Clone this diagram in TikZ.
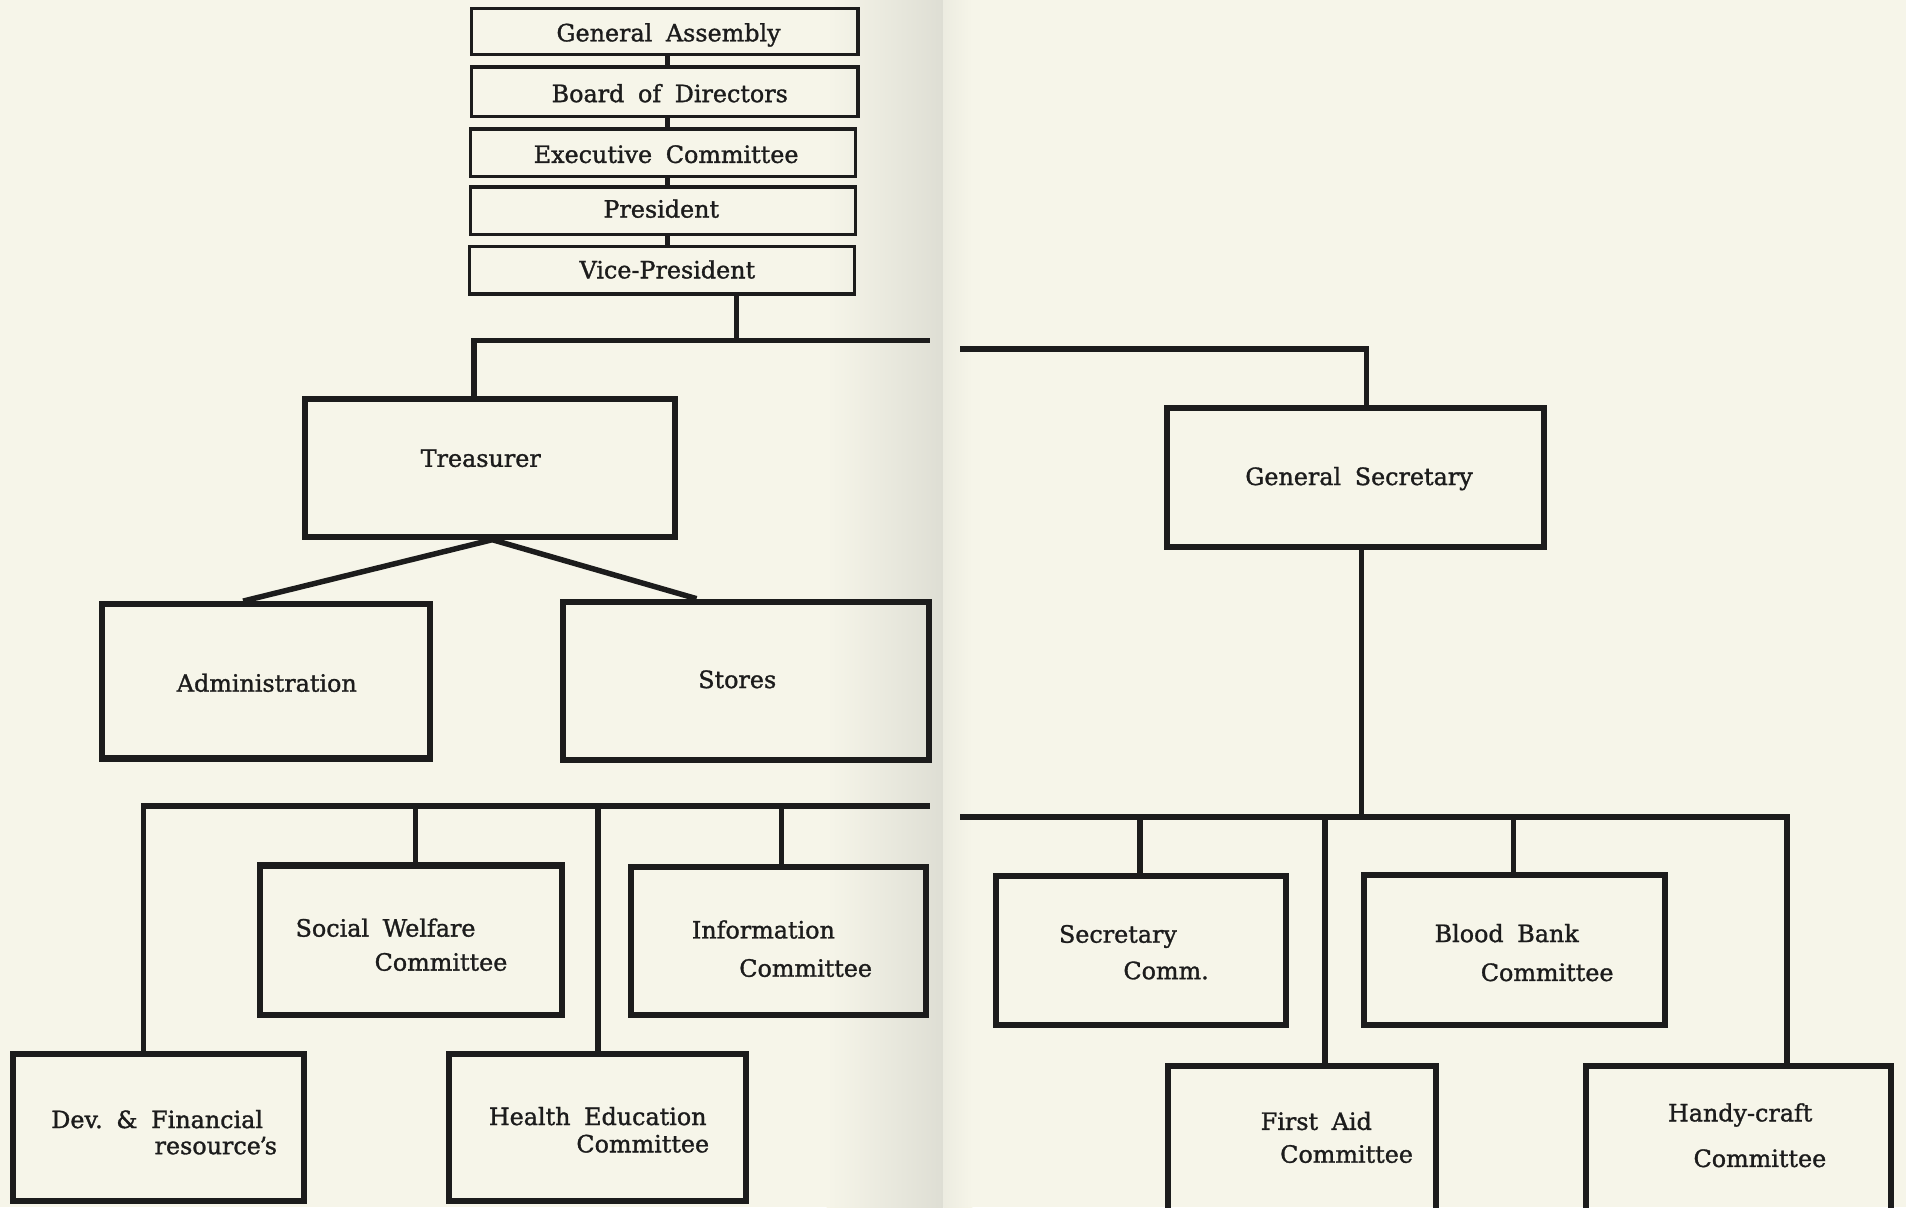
\documentclass[tikz,border=0pt]{standalone}
\usepackage{fontspec}
\setmainfont{DejaVu Serif}[WordSpace=1.8,FakeBold=1.3]
\definecolor{paper}{RGB}{246,245,233}
\definecolor{spinegrey}{RGB}{222,222,212}
\definecolor{ink}{RGB}{28,28,28}
\newcommand{\obox}[6]{\node[#1,minimum width={#5-#3},minimum height={#6-#4}] (#2) at ({(#3+#5)/2},{(#4+#6)/2}) {};}
\begin{document}
\begin{tikzpicture}[x=1pt,y=-1pt,
  stackbox/.style={draw=ink,line width=2.8pt,inner sep=0pt},
  bigbox/.style={draw=ink,line width=5pt,inner sep=0pt},
  lbl/.style={font=\fontsize{19.6}{23}\selectfont,text=ink,inner sep=0pt},
  link/.style={draw=ink,line width=4.5pt,line join=miter},
  stub/.style={draw=ink,line width=4.5pt}]
\useasboundingbox (0,0) rectangle (1568,993);
\clip (0,0) rectangle (1568,993);
% paper
\fill[paper] (0,0) rectangle (1568,993);
\shade[left color=paper,right color=spinegrey] (680,0) rectangle (776,993);
\shade[left color=spinegrey!40!paper,right color=paper] (776,0) rectangle (800,993);

% top stack
\obox{stackbox}{ga}{388}{7}{706}{45}
\obox{stackbox}{bd}{388}{55}{706}{96}
\obox{stackbox}{ec}{387}{106}{704}{145}
\obox{stackbox}{pr}{387}{154}{704}{193}
\obox{stackbox}{vp}{386}{203}{703}{242}
\node[lbl,anchor=base] (gaT) at (550,34) {General Assembly};
\node[lbl,anchor=base] (bdT) at (551,84) {Board of Directors};
\node[lbl,anchor=base] (ecT) at (548,134) {Executive Committee};
\node[lbl,anchor=base] (prT) at (544,179) {President};
\node[lbl,anchor=base] (vpT) at (549,229) {Vice-President};

\coordinate (sx) at (549,0);
\draw[stub] (ga.south -| sx) -- (bd.north -| sx);
\draw[stub] (bd.south -| sx) -- (ec.north -| sx);
\draw[stub] (ec.south -| sx) -- (pr.north -| sx);
\draw[stub] (pr.south -| sx) -- (vp.north -| sx);

% second level
\obox{bigbox}{tr}{251}{328}{555}{442}
\obox{bigbox}{gs}{960}{336}{1270}{450}
\node[lbl,anchor=base] (trT) at (395.5,384) {Treasurer};
\node[lbl,anchor=base] (gsT) at (1118,399) {General Secretary};

\coordinate (jTop) at (606,280);
\coordinate (jTL) at (390,280);
\coordinate (jTE) at (765,280);
\coordinate (jTR) at (790,287);
\coordinate (jGS) at (1124,287);
\draw[link] (vp.south -| jTop) -- (jTop);
\draw[link] (tr.north -| jTL) -- (jTL) -- (jTE);
\draw[link] (jTR) -- (jGS) -- (gs.north -| jGS);

% treasurer children
\obox{bigbox}{adm}{84}{497}{354}{624}
\obox{bigbox}{sto}{463}{495}{764}{625}
\node[lbl,anchor=base] (admT) at (219.5,569) {Administration};
\node[lbl,anchor=base] (stoT) at (606.5,566) {Stores};
\coordinate (trb) at (405,444);
\coordinate (ax) at (200,0);
\coordinate (bx) at (573,0);
\draw[link] (adm.north -| ax) -- (trb) -- (sto.north -| bx);

% left committees
\obox{bigbox}{sw}{214}{712}{462}{835}
\obox{bigbox}{inf}{519}{713}{762}{835}
\obox{bigbox}{dev}{11}{867}{250}{988}
\obox{bigbox}{he}{369}{867}{614}{988}
\node[lbl,anchor=base west] (swT1) at (243,770.5) {Social Welfare};
\node[lbl,anchor=base west] (swT2) at (308,798.5) {Committee};
\node[lbl,anchor=base west] (infT1) at (569,772) {Information};
\node[lbl,anchor=base west] (infT2) at (608,803.5) {Committee};
\node[lbl,anchor=base west] (devT1) at (42,928) {Dev.\ \& Financial};
\node[lbl,anchor=base west] (devT2) at (127,949.5) {resource\kern-1pt'\kern-2pts};
\node[lbl,anchor=base west] (heT1) at (402,925.5) {Health Education};
\node[lbl,anchor=base west] (heT2) at (474,948) {Committee};

\coordinate (jBL) at (118,663);
\coordinate (jBLE) at (765,663);
\coordinate (d1) at (342,663);
\coordinate (d2) at (492,663);
\coordinate (d3) at (643,663);
\draw[link] (dev.north -| jBL) -- (jBL) -- (jBLE);
\draw[link] (d1) -- (sw.north -| d1);
\draw[link] (d2) -- (he.north -| d2);
\draw[link] (d3) -- (inf.north -| d3);

% right committees
\obox{bigbox}{sec}{819}{721}{1058}{843}
\obox{bigbox}{bb}{1122}{720}{1370}{843}
\obox{bigbox}{fa}{961}{877}{1181}{1020}
\obox{bigbox}{hc}{1305}{877}{1556}{1020}
\node[lbl,anchor=base west] (secT1) at (871,775.5) {Secretary};
\node[lbl,anchor=base west] (secT2) at (924,805.5) {Comm.};
\node[lbl,anchor=base west] (bbT1) at (1180,775) {Blood Bank};
\node[lbl,anchor=base west] (bbT2) at (1218,807) {Committee};
\node[lbl,anchor=base west] (faT1) at (1037,929.5) {First Aid};
\node[lbl,anchor=base west] (faT2) at (1053,956.5) {Committee};
\node[lbl,anchor=base west] (hcT1) at (1372,922.5) {Handy-craft};
\node[lbl,anchor=base west] (hcT2) at (1393,960) {Committee};

\coordinate (jGSb) at (1120,672);
\coordinate (jBR) at (790,672);
\coordinate (jBRE) at (1470,672);
\coordinate (e1) at (938,672);
\coordinate (e2) at (1090,672);
\coordinate (e3) at (1245,672);
\draw[link] (gs.south -| jGSb) -- (jGSb);
\draw[link] (jBR) -- (jBRE) -- (hc.north -| jBRE);
\draw[link] (e1) -- (sec.north -| e1);
\draw[link] (e2) -- (fa.north -| e2);
\draw[link] (e3) -- (bb.north -| e3);
\end{tikzpicture}
\end{document}
